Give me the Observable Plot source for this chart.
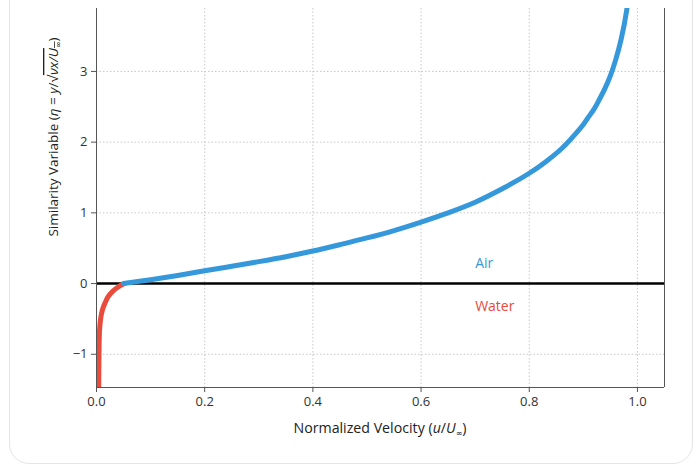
<!DOCTYPE html>
<html>
<head>
<meta charset="utf-8">
<script src="https://cdn.jsdelivr.net/npm/d3@7"></script>
<script src="https://cdn.jsdelivr.net/npm/@observablehq/plot@0.6"></script>
<style>
  html, body { margin: 0; padding: 0; background: #fff; overflow: hidden; }
  #wrap { position: relative; width: 696px; height: 468px; }
  #card { position: absolute; left: 9px; top: -40px; width: 684px; height: 504px;
          border: 1.5px solid #e4e4e9; border-radius: 20px; box-sizing: border-box; }
  #chart { position: absolute; left: 0; top: 0; }
</style>
</head>
<body>
<div id="wrap"><div id="card"></div><div id="chart"></div></div>
<script>
// Air side (blue): normalized velocity u/U∞ and similarity variable η
const airU   = [0.05, 0.10, 0.15, 0.20, 0.25, 0.30, 0.35, 0.40, 0.45, 0.50, 0.55, 0.60, 0.65, 0.70, 0.75, 0.80, 0.83, 0.86, 0.88, 0.90, 0.91, 0.92, 0.93, 0.94, 0.95, 0.96, 0.97, 0.98, 0.99];
const airEta = [0.00, 0.055, 0.115, 0.18, 0.245, 0.31, 0.38, 0.46, 0.55, 0.645, 0.75, 0.87, 1.00, 1.15, 1.34, 1.56, 1.72, 1.91, 2.07, 2.25, 2.36, 2.47, 2.61, 2.76, 2.94, 3.17, 3.46, 3.86, 4.55];
// Water side (red)
const waterU   = [0.004, 0.0045, 0.005, 0.006, 0.008, 0.011, 0.016, 0.022, 0.030, 0.038, 0.045, 0.052];
const waterEta = [-1.60, -1.10, -0.80, -0.62, -0.48, -0.37, -0.27, -0.18, -0.11, -0.06, -0.025, 0.00];

const xTicks = [0.0, 0.2, 0.4, 0.6, 0.8, 1.0];
const yTicks = [-1, 0, 1, 2, 3];
const xDomain = [0, 1.05];
const yDomain = [-1.47, 3.89];
const labels = [
  {u: 0.70, eta: 0.28, text: "Air", color: "#3498db"},
  {u: 0.70, eta: -0.32, text: "Water", color: "#e74c3c"}
];

const air = airU.map((u, i) => ({u, eta: airEta[i]}));
const water = waterU.map((u, i) => ({u, eta: waterEta[i]}));

const fontFamily = "'Open Sans', Roboto, sans-serif";
const symFont = "'DejaVu Sans', sans-serif";
const spine = "#555";

const plot = Plot.plot({
  width: 696, height: 468,
  marginLeft: 96, marginRight: 32, marginTop: 8, marginBottom: 81,
  style: {fontFamily, fontSize: "13px", color: "#333", background: "transparent", overflow: "visible"},
  x: {domain: xDomain, label: null},
  y: {domain: yDomain, label: null},
  marks: [
    Plot.gridX(xTicks.filter(d => d > 0), {stroke: "#c8c8c8", strokeOpacity: 1, strokeDasharray: "1.5,2"}),
    Plot.gridY(yTicks.filter(d => d !== 0), {stroke: "#c8c8c8", strokeOpacity: 1, strokeDasharray: "1.5,2"}),
    Plot.ruleY([0], {stroke: "#000", strokeWidth: 2.5}),
    Plot.line(water, {x: "u", y: "eta", stroke: "#e74c3c", strokeWidth: 5, curve: "monotone-y", clip: true}),
    Plot.line(air, {x: "u", y: "eta", stroke: "#3498db", strokeWidth: 5, curve: "catmull-rom", clip: true}),
    Plot.ruleX([xDomain[0]], {stroke: spine, strokeWidth: 1}),
    Plot.ruleX([xDomain[1]], {stroke: spine, strokeWidth: 1}),
    Plot.ruleY([yDomain[0]], {stroke: spine, strokeWidth: 1}),
    Plot.axisX({ticks: xTicks, tickFormat: d3.format(".1f"), tickSize: 5, tickPadding: 4, stroke: spine, label: null}),
    Plot.axisY({ticks: yTicks, tickFormat: d => d < 0 ? "\u2212" + (-d) : String(d), tickSize: 5, tickPadding: 4, stroke: spine, label: null}),
    Plot.text(labels, {x: "u", y: "eta", text: "text", fill: "color", textAnchor: "start", fontSize: 14})
  ]
});

document.getElementById("chart").appendChild(plot);

const svg = d3.select(plot);
// x-axis title
const xt = svg.append("text")
  .attr("x", 380).attr("y", 433)
  .attr("text-anchor", "middle")
  .attr("font-family", fontFamily).attr("font-size", 14.2).attr("fill", "#222");
xt.append("tspan").text("Normalized Velocity (");
xt.append("tspan").attr("font-style", "italic").text("u");
xt.append("tspan").text("/");
xt.append("tspan").attr("font-style", "italic").text("U");
xt.append("tspan").attr("font-family", symFont).attr("font-size", 8).attr("dy", 3).text("\u221E");
xt.append("tspan").attr("dy", -3).text(")");

// y-axis title
const yt = svg.append("text")
  .attr("transform", "translate(58,137) rotate(-90)")
  .attr("text-anchor", "middle")
  .attr("font-family", fontFamily).attr("font-size", 13.5).attr("fill", "#222");
yt.append("tspan").text("Similarity Variable (");
yt.append("tspan").attr("font-style", "italic").text("\u03B7");
yt.append("tspan").text(" = ");
yt.append("tspan").attr("font-style", "italic").text("y");
yt.append("tspan").text("/\u221A");
yt.append("tspan").attr("font-style", "italic").style("text-decoration", "overline").text("\u03BDx/U");
yt.append("tspan").attr("font-family", symFont).attr("font-size", 8).attr("dy", 3).style("text-decoration", "overline").text("\u221E");
yt.append("tspan").attr("dy", -3).text(")");
</script>
</body>
</html>
